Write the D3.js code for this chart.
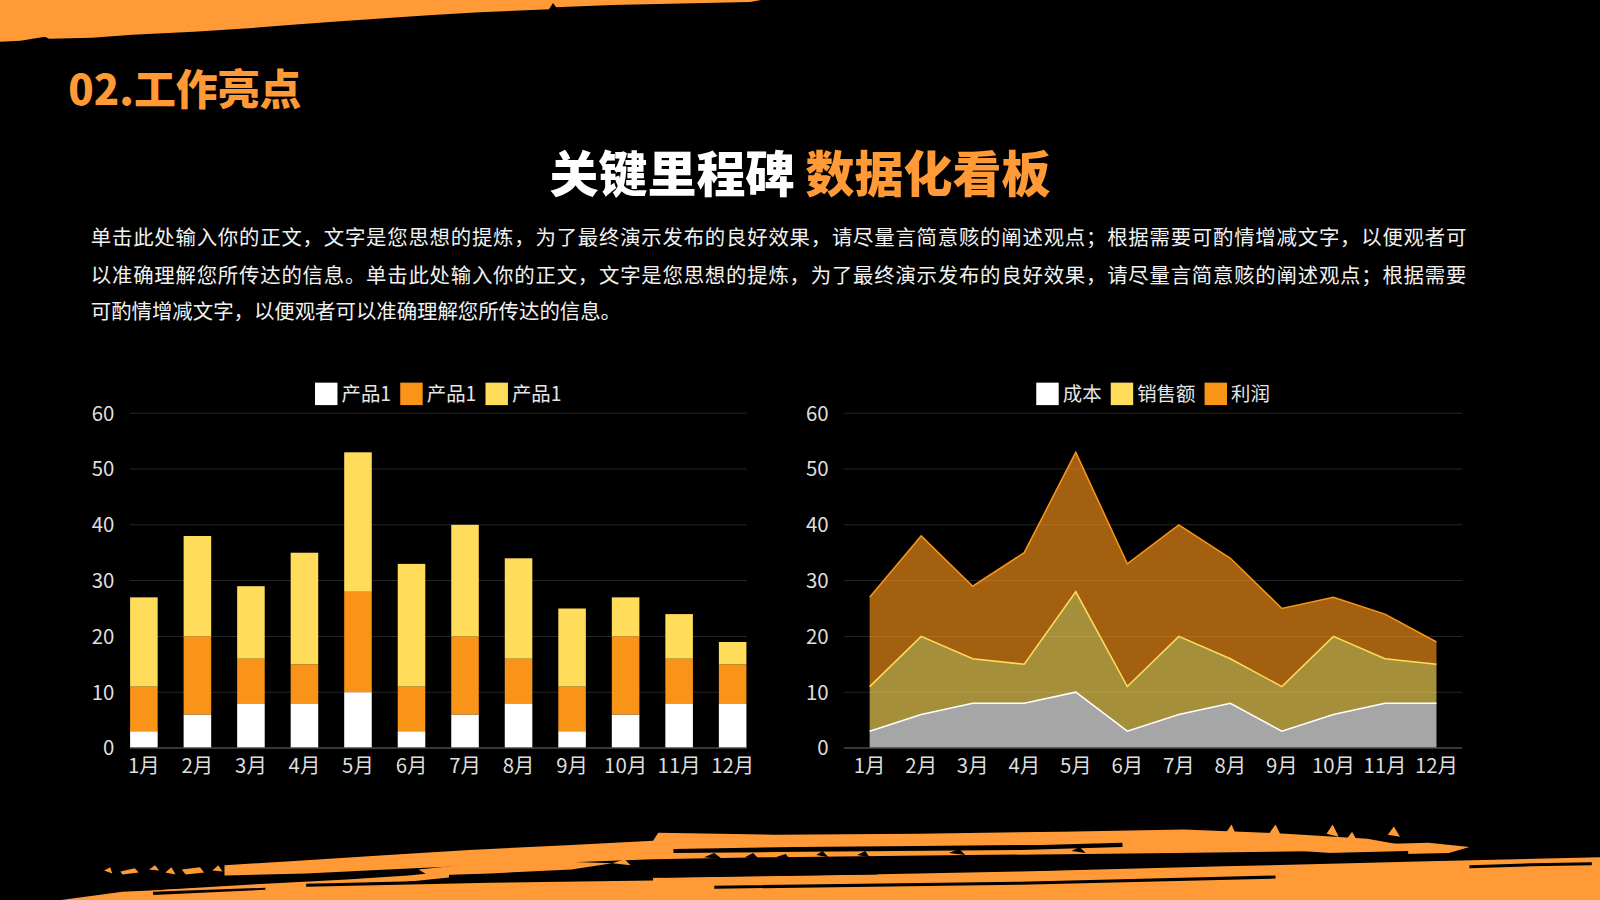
<!DOCTYPE html>
<html>
<head>
<meta charset="utf-8">
<script src="https://cdn.jsdelivr.net/npm/d3@7"></script>
<style>
    html, body { margin: 0; padding: 0; background: #000; overflow: hidden; }
    svg { display: block; }
</style>
</head>
<body>
<div id="chart"></div>
<script>
// values
const months = ["1月", "2月", "3月", "4月", "5月", "6月", "7月", "8月", "9月", "10月", "11月", "12月"];
const product1 = [3, 6, 8, 8, 10, 3, 6, 8, 3, 6, 8, 8];
const product2 = [8, 14, 8, 7, 18, 8, 14, 8, 8, 14, 8, 7];
const product3 = [16, 18, 13, 20, 25, 22, 20, 18, 14, 7, 8, 4];
const costValues = [3, 6, 8, 8, 10, 3, 6, 8, 3, 6, 8, 8];
const salesValues = [8, 14, 8, 7, 18, 8, 14, 8, 8, 14, 8, 7];
const profitValues = [16, 18, 13, 20, 25, 22, 20, 18, 14, 7, 8, 4];
const barLegend = ["产品1", "产品1", "产品1"];
const areaLegend = ["成本", "销售额", "利润"];
const yTicks = [0, 10, 20, 30, 40, 50, 60];

const heading = "02.工作亮点";
const titleWhite = "关键里程碑";
const titleOrange = "数据化看板";
const paragraph = [
    "单击此处输入你的正文，文字是您思想的提炼，为了最终演示发布的良好效果，请尽量言简意赅的阐述观点；根据需要可酌情增减文字，以便观者可",
    "以准确理解您所传达的信息。单击此处输入你的正文，文字是您思想的提炼，为了最终演示发布的良好效果，请尽量言简意赅的阐述观点；根据需要",
    "可酌情增减文字，以便观者可以准确理解您所传达的信息。"
];

const WHITE = "#ffffff";
const ORANGE = "#fa9419";
const YELLOW = "#ffdc5a";
const BRUSH = "#ff9a36";
const FONT = "'Noto Sans CJK SC', 'Noto Sans', sans-serif";

const svg = d3.select("#chart")
    .append("svg")
    .attr("width", 1600)
    .attr("height", 900)
    .attr("viewBox", "0 0 1568 882")
    .style("background", "#000");

drawBrushes();
drawHeader();

// shared y scale for both charts
const y = d3.scaleLinear().domain([0, 60]).range([733, 405]);

drawBarChart();
drawAreaChart();

/**
 * Horizontal grid and left tick labels
 */
function drawGrid(g, x0, x1, labelX) {
    g.selectAll("line.grid")
        .data(yTicks.filter(d => d > 0))
        .join("line")
        .attr("class", "grid")
        .attr("x1", x0).attr("x2", x1)
        .attr("y1", d => y(d)).attr("y2", d => y(d))
        .attr("stroke", "#262626")
        .attr("stroke-width", 1);

    g.selectAll("text.ytick")
        .data(yTicks)
        .join("text")
        .attr("class", "ytick")
        .attr("x", labelX)
        .attr("y", d => y(d))
        .attr("dy", "0.36em")
        .attr("text-anchor", "end")
        .attr("fill", "#dedede")
        .style("font", `20px ${FONT}`)
        .text(d => d);
}

function drawZeroLine(g, x0, x1) {
    g.append("line")
        .attr("x1", x0).attr("x2", x1)
        .attr("y1", y(0)).attr("y2", y(0))
        .attr("stroke", "#4a4a4a").attr("stroke-width", 1.5);
}

function drawXLabels(g, xPos) {
    g.selectAll("text.xtick")
        .data(months)
        .join("text")
        .attr("class", "xtick")
        .attr("x", d => xPos(d))
        .attr("y", 758)
        .attr("text-anchor", "middle")
        .attr("fill", "#dedede")
        .style("font", `20px ${FONT}`)
        .text(d => d);
}

/**
 * Legend made of square swatches, centred on cx
 */
function drawLegend(g, names, colors, cx) {
    const lg = g.append("g");
    let x = 0;
    names.forEach((name, i) => {
        lg.append("rect")
            .attr("x", x).attr("y", 375)
            .attr("width", 22).attr("height", 22)
            .attr("fill", colors[i]);
        const t = lg.append("text")
            .attr("x", x + 26).attr("y", 393)
            .attr("fill", "#e6e6e6")
            .style("font", `19px ${FONT}`)
            .text(name);
        x += 26 + t.node().getComputedTextLength() + 9;
    });
    const w = x - 9;
    lg.attr("transform", `translate(${cx - w / 2},0)`);
}

function drawBarChart() {
    const g = svg.append("g");
    const x = d3.scaleBand()
        .domain(months)
        .range([127.5, 731.5])
        .paddingInner(0.485)
        .paddingOuter(0);

    drawGrid(g, x.range()[0], x.range()[1], 112);

    const table = months.map((m, i) => ({ month: m, p1: product1[i], p2: product2[i], p3: product3[i] }));
    const series = d3.stack().keys(["p1", "p2", "p3"])(table);
    const colors = [WHITE, ORANGE, YELLOW];

    g.selectAll("g.layer")
        .data(series)
        .join("g")
        .attr("class", "layer")
        .attr("fill", (d, i) => colors[i])
        .selectAll("rect")
        .data(d => d)
        .join("rect")
        .attr("x", d => x(d.data.month))
        .attr("width", x.bandwidth())
        .attr("y", d => y(d[1]))
        .attr("height", d => y(d[0]) - y(d[1]));

    drawZeroLine(g, x.range()[0], x.range()[1]);
    drawXLabels(g, d => x(d) + x.bandwidth() / 2);
    drawLegend(g, barLegend, colors, (x.range()[0] + x.range()[1]) / 2);
}

function drawAreaChart() {
    const g = svg.append("g");
    const x = d3.scalePoint()
        .domain(months)
        .range([827, 1433])
        .padding(0.5);

    drawGrid(g, x.range()[0], x.range()[1], 812);

    const table = months.map((m, i) => ({ month: m, cost: costValues[i], sales: salesValues[i], profit: profitValues[i] }));
    const series = d3.stack().keys(["cost", "sales", "profit"])(table);
    const colors = [WHITE, YELLOW, ORANGE];

    const area = d3.area()
        .x(d => x(d.data.month))
        .y0(d => y(d[0]))
        .y1(d => y(d[1]));
    const line = d3.line()
        .x(d => x(d.data.month))
        .y(d => y(d[1]));

    g.selectAll("path.area")
        .data(series)
        .join("path")
        .attr("class", "area")
        .attr("d", area)
        .attr("fill", (d, i) => colors[i])
        .attr("fill-opacity", 0.65);

    g.selectAll("path.edge")
        .data(series)
        .join("path")
        .attr("class", "edge")
        .attr("d", line)
        .attr("fill", "none")
        .attr("stroke", (d, i) => colors[i])
        .attr("stroke-width", 1.5);

    drawZeroLine(g, x.range()[0], x.range()[1]);
    drawXLabels(g, d => x(d));
    drawLegend(g, areaLegend, colors, (x.range()[0] + x.range()[1]) / 2);
}

function drawHeader() {
    svg.append("text")
        .attr("x", 67).attr("y", 103)
        .attr("fill", BRUSH)
        .style("font", `900 41px ${FONT}`)
        .text(heading);

    const t = svg.append("text")
        .attr("x", 784).attr("y", 188)
        .attr("text-anchor", "middle")
        .style("font", `900 48px ${FONT}`);
    t.append("tspan").attr("fill", WHITE).text(titleWhite + " ");
    t.append("tspan").attr("fill", BRUSH).text(titleOrange);

    const lineY = [240, 277, 313];
    svg.selectAll("text.para")
        .data(paragraph)
        .join("text")
        .attr("class", "para")
        .attr("x", 89)
        .attr("y", (d, i) => lineY[i])
        .attr("fill", "#f2f2f2")
        .style("font", `20px ${FONT}`)
        .each(function (d, i) {
            if (i < 2) d3.select(this).attr("textLength", 1348).attr("lengthAdjust", "spacing");
        })
        .text(d => d);
}

// rough orange brush strokes along the top and bottom edges (decoration only)
function drawBrushes() {
    const shape = d3.line().curve(d3.curveLinearClosed);
    const top = [[0, 0], [746, 0], [735, 2], [690, 3], [600, 5], [545, 7], [542, 3], [538, 9], [470, 12],
        [420, 15], [330, 21], [290, 24], [240, 28], [190, 31], [130, 34], [90, 37], [48, 38], [44, 36], [20, 40], [0, 41]];
    const strokes = [
        // solid lower band
        [[60, 882], [120, 874], [250, 868], [420, 864], [600, 861], [800, 858], [1000, 854], [1200, 849], [1400, 844], [1568, 840], [1568, 882]],
        // long upper stroke
        [[220, 848], [300, 843], [380, 838], [460, 833], [560, 828], [640, 824], [645, 816], [760, 818], [900, 817],
            [1040, 815], [1160, 813], [1260, 817], [1340, 822], [1385, 830], [1300, 834], [1150, 836], [950, 838], [760, 840], [640, 842],
            [560, 845], [470, 848], [380, 852], [300, 856], [220, 858]],
        // stroke below the upper one, left side
        [[80, 880], [160, 872], [260, 866], [340, 862], [400, 858], [440, 854], [440, 860], [380, 866], [300, 871], [200, 876], [120, 882]],
        [[410, 852], [470, 846], [540, 844], [600, 846], [560, 852], [480, 856], [420, 858]],
        [[1250, 832], [1320, 828], [1400, 826], [1440, 830], [1420, 836], [1330, 838]],
        // left speckles
        [[102, 853], [108, 850], [110, 856]], [[118, 854], [132, 851], [136, 855], [120, 857]], [[146, 852], [152, 848], [156, 853]],
        [[162, 855], [168, 850], [172, 857]], [[178, 852], [196, 850], [200, 855], [182, 857]], [[208, 853], [214, 848], [218, 854]],
        [[540, 842], [552, 838], [556, 844]], [[600, 846], [612, 842], [618, 848]],
        // spikes at the right end of the upper stroke
        [[1200, 818], [1207, 808], [1212, 820]], [[1243, 818], [1250, 808], [1256, 820]],
        [[1300, 817], [1306, 808], [1312, 820]], [[1360, 818], [1366, 810], [1372, 820]],
        [[1275, 824], [1280, 818], [1286, 826]], [[1320, 822], [1325, 815], [1330, 824]]
    ];
    const gaps = [
        [[660, 832], [780, 830], [900, 829], [1020, 828], [1100, 826], [1100, 830], [1000, 833], [880, 834], [760, 835], [660, 836]],
        [[700, 845], [850, 843], [1000, 841], [1150, 839], [1300, 836], [1380, 834], [1380, 838], [1300, 841], [1150, 843], [1000, 846], [850, 848], [700, 850]],
        [[650, 856], [760, 854], [860, 853], [860, 857], [760, 858], [650, 860]],
        [[900, 851], [1020, 848], [1130, 846], [1130, 850], [1020, 853], [900, 855]],
        [[1180, 842], [1250, 840], [1330, 838], [1330, 841], [1250, 843], [1180, 845]],
        [[1440, 848], [1500, 846], [1560, 845], [1560, 848], [1500, 849], [1440, 851]],
        [[300, 866], [480, 862], [640, 860], [640, 863], [480, 865], [300, 869]],
        [[700, 868], [1000, 864], [1250, 858], [1250, 861], [1000, 867], [700, 871]],
        [[150, 874], [260, 870], [260, 872], [150, 877]],
        [[690, 840], [700, 836], [708, 842]], [[730, 840], [738, 836], [744, 842]], [[760, 840], [770, 837], [775, 843]],
        [[800, 838], [806, 834], [812, 840]], [[840, 838], [848, 834], [852, 840]], [[930, 836], [940, 832], [946, 838]],
        [[1050, 834], [1058, 830], [1064, 836]]
    ];
    svg.append("path").attr("d", shape(top)).attr("fill", BRUSH);
    svg.selectAll("path.brush")
        .data(strokes)
        .join("path")
        .attr("class", "brush")
        .attr("d", shape)
        .attr("fill", BRUSH);
    svg.selectAll("path.gap")
        .data(gaps)
        .join("path")
        .attr("class", "gap")
        .attr("d", shape)
        .attr("fill", "#000");
}
</script>
</body>
</html>
